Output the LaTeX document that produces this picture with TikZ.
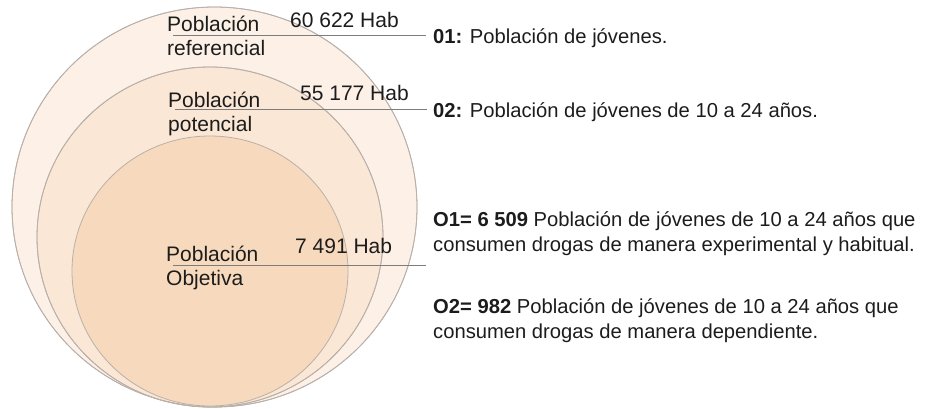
\documentclass[tikz,border=0pt]{standalone}
\usepackage{fontspec}
\setmainfont{Liberation Sans}
\usepackage{tikz}
\usetikzlibrary{positioning}
\definecolor{outerfill}{RGB}{253,241,231}
\definecolor{midfill}{RGB}{250,231,213}
\definecolor{innerfill}{RGB}{247,218,189}
\definecolor{rim}{RGB}{185,176,170}
\definecolor{leadgray}{RGB}{125,125,125}
\definecolor{ink}{RGB}{28,28,28}
\tikzstyle{ring} = [draw=rim, line width=0.8pt]
\tikzstyle{tag} = [anchor=base west, inner sep=0pt, align=left, text=ink, font=\fontsize{21}{24}\selectfont]
\tikzstyle{count} = [anchor=base west, inner sep=0pt, text=ink, font=\fontsize{21}{24}\selectfont]
\tikzstyle{note} = [anchor=base west, inner sep=0pt, align=left, text=ink, font=\fontsize{20.2}{25}\selectfont]
\tikzstyle{leader} = [draw=leadgray, line width=0.9pt]

\begin{document}
\begin{tikzpicture}[x=1pt, y=-1pt]
	\useasboundingbox (0,0) rectangle (951,408);
	% populations, outer to inner
	\fill [outerfill, ring] (214.5,207) ellipse [x radius=202.5pt, y radius=200pt];
	\fill [midfill, ring] (210,237) ellipse [x radius=173pt, y radius=170pt];
	\fill [innerfill, ring] (210,271) ellipse [x radius=138pt, y radius=135pt];
	\draw [ring] (214.5,207) ellipse [x radius=202.5pt, y radius=200pt];
	\draw [ring] (210,237) ellipse [x radius=173pt, y radius=170pt];
	
	% base anchor sits on the last line
	\node (ref) [tag] at (167,55) {Población\\referencial};
	\node (pot) [tag] at (168,131) {Población\\potencial};
	\node (obj) [tag] at (166,285) {Población\\Objetiva};
	\node (nref) [count] at (290,27) {60 622 Hab};
	\node (npot) [count] at (300,100) {55 177 Hab};
	\node (nobj) [count] at (295,253) {7 491 Hab};
	
	\node (d1) [note] at (433,43) {\textbf{01:} Población de jóvenes.};
	\node (d2) [note] at (433,117) {\textbf{02:} Población de jóvenes de 10 a 24 años.};
	\node (o1) [note] at (433,251) {\textbf{O1= 6 509} Población de jóvenes de 10 a 24 años que\\consumen drogas de manera experimental y habitual.};
	\node (o2) [note] at (433,338) {\textbf{O2= 982} Población de jóvenes de 10 a 24 años que\\consumen drogas de manera dependiente.};
	
	\coordinate (c1) at (173,35);
	\coordinate (c2) at (175,109);
	\coordinate (c3) at (173,265);
	\coordinate (e3) at (426,265);
	\draw [leader](c1) -- ([xshift=-7pt]c1 -| d1.west);
	\draw [leader](c2) -- ([xshift=-6pt]c2 -| d2.west);
	\draw [leader](c3) -- (e3);
\end{tikzpicture}
\end{document}
